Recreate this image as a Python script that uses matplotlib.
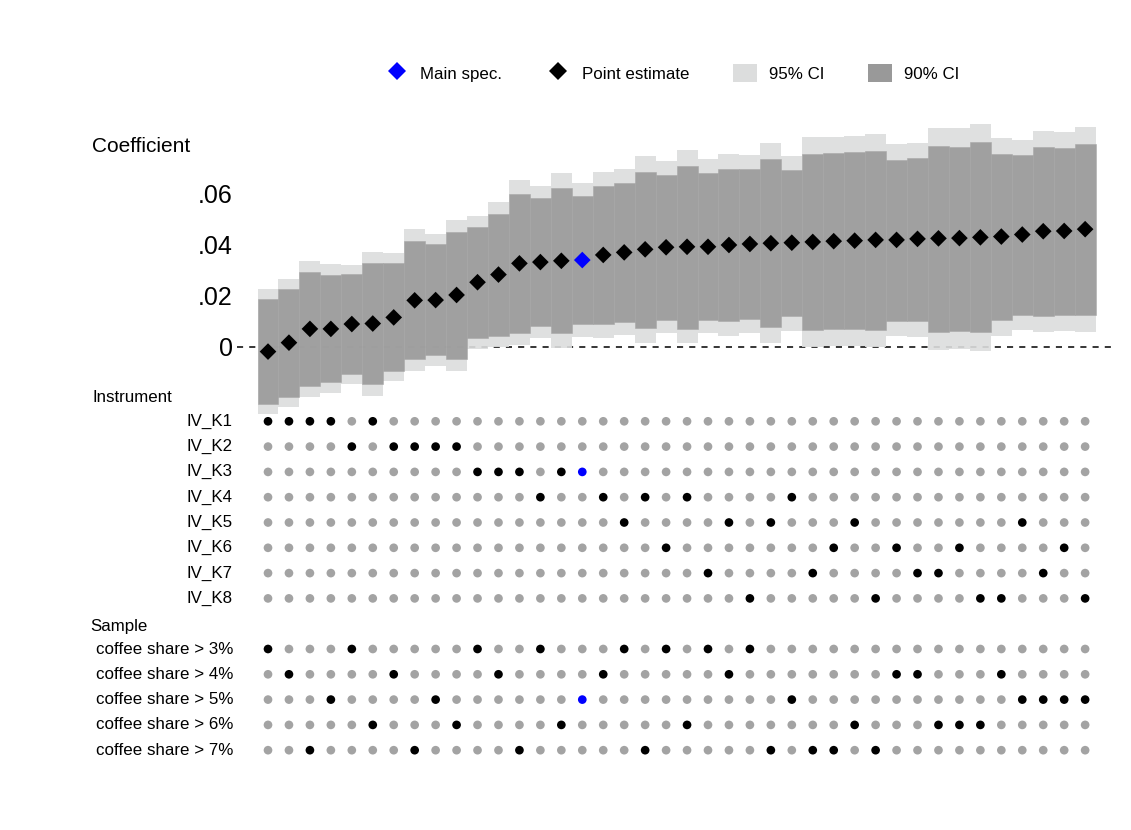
import numpy as np
import matplotlib
matplotlib.use("Agg")
import matplotlib.pyplot as plt
from matplotlib.lines import Line2D
from matplotlib.patches import Patch
from matplotlib.transforms import blended_transform_factory

plt.rcParams['font.family'] = ['Liberation Sans', 'DejaVu Sans']

# point estimates and confidence bounds, one entry per specification (sorted)
estimate = [-0.0018, 0.0017, 0.0071, 0.0071, 0.0090, 0.0092, 0.0116, 0.0183, 0.0184, 0.0204,
            0.0254, 0.0284, 0.0328, 0.0333, 0.0338, 0.0341, 0.0361, 0.0371, 0.0383, 0.0391,
            0.0393, 0.0393, 0.0400, 0.0404, 0.0407, 0.0409, 0.0412, 0.0415, 0.0417, 0.0420,
            0.0420, 0.0424, 0.0426, 0.0427, 0.0430, 0.0433, 0.0441, 0.0454, 0.0455, 0.0462]
ci95_hi = [0.0226, 0.0268, 0.0337, 0.0325, 0.0322, 0.0371, 0.0367, 0.0463, 0.0443, 0.0498,
           0.0515, 0.0567, 0.0654, 0.0631, 0.0681, 0.0642, 0.0685, 0.0697, 0.0749, 0.0731,
           0.0774, 0.0737, 0.0757, 0.0753, 0.0799, 0.0749, 0.0822, 0.0825, 0.0829, 0.0834,
           0.0795, 0.0801, 0.0859, 0.0858, 0.0873, 0.0818, 0.0812, 0.0847, 0.0843, 0.0862]
ci90_hi = [0.0187, 0.0226, 0.0293, 0.0282, 0.0285, 0.0328, 0.0328, 0.0417, 0.0403, 0.0452,
           0.0472, 0.0522, 0.0600, 0.0583, 0.0625, 0.0592, 0.0631, 0.0644, 0.0688, 0.0675,
           0.0711, 0.0684, 0.0697, 0.0697, 0.0736, 0.0694, 0.0757, 0.0760, 0.0764, 0.0767,
           0.0733, 0.0741, 0.0790, 0.0786, 0.0803, 0.0757, 0.0753, 0.0783, 0.0780, 0.0796]
ci90_lo = [-0.0225, -0.0197, -0.0153, -0.0139, -0.0107, -0.0145, -0.0093, -0.0048, -0.0031, -0.0047,
           0.0034, 0.0044, 0.0054, 0.0084, 0.0054, 0.0090, 0.0089, 0.0099, 0.0076, 0.0106,
           0.0072, 0.0106, 0.0102, 0.0110, 0.0077, 0.0122, 0.0067, 0.0069, 0.0071, 0.0067,
           0.0103, 0.0102, 0.0060, 0.0064, 0.0059, 0.0106, 0.0125, 0.0123, 0.0125, 0.0125]
ci95_lo = [-0.0263, -0.0237, -0.0195, -0.0179, -0.0146, -0.0191, -0.0133, -0.0094, -0.0073, -0.0094,
           -0.0007, 0.0001, 0.0007, 0.0034, -0.0003, 0.0040, 0.0037, 0.0047, 0.0017, 0.0054,
           0.0014, 0.0054, 0.0044, 0.0054, 0.0014, 0.0064, 0.0001, 0.0004, 0.0004, -0.0001,
           0.0043, 0.0040, -0.0012, -0.0007, -0.0014, 0.0043, 0.0067, 0.0060, 0.0063, 0.0060]

# which instrument (1..8) and sample cutoff (%) each specification uses
instrument = [1, 1, 1, 1, 2, 1, 2, 2, 2, 2, 3, 3, 3, 4, 3, 3, 4, 5, 4, 6,
              4, 7, 5, 8, 5, 4, 7, 6, 5, 8, 6, 7, 7, 6, 8, 8, 5, 7, 6, 8]
sample = [3, 4, 7, 5, 3, 6, 4, 7, 5, 6, 3, 4, 7, 3, 6, 5, 4, 3, 7, 3,
          6, 3, 4, 3, 7, 5, 7, 7, 6, 7, 4, 4, 6, 6, 6, 4, 5, 5, 5, 5]
main_spec = 15

instrument_labels = ['IV_K1', 'IV_K2', 'IV_K3', 'IV_K4', 'IV_K5', 'IV_K6', 'IV_K7', 'IV_K8']
sample_levels = [3, 4, 5, 6, 7]
sample_labels = ['coffee share > 3%', 'coffee share > 4%', 'coffee share > 5%',
                 'coffee share > 6%', 'coffee share > 7%']
yticks = [0, 0.02, 0.04, 0.06]

LIGHT = '#dcdddd'
DARK = '#999999'
DOT_GREY = '#a3a3a3'
BLUE = '#0000ff'
LABEL_FS = 12.2

W, H = 1131, 830
fig = plt.figure(figsize=(W / 100, H / 100), dpi=100)

def px_box(x0, x1, ytop, ybot):
    return [x0 / W, 1 - ybot / H, (x1 - x0) / W, (ybot - ytop) / H]

n = len(estimate)
x = np.arange(n)
xlim = (-1.48, 40.33)

# ---- coefficient panel
ax = fig.add_axes(px_box(237, 1113, 120, 415))
ax.axhline(0, color='black', lw=1.1, ls=(0, (4, 4)), zorder=1)
lo95, hi95 = np.array(ci95_lo), np.array(ci95_hi)
lo90, hi90 = np.array(ci90_lo), np.array(ci90_hi)
ax.bar(x, hi95 - lo95, bottom=lo95, width=1.0, color=LIGHT, alpha=0.9, zorder=2, lw=0)
ax.bar(x, hi90 - lo90, bottom=lo90, width=1.0, color=DARK, alpha=0.9, zorder=3,
       edgecolor='#a6a6a6', lw=0.4)
est = np.array(estimate)
colors = ['black'] * n
colors[main_spec] = BLUE
ax.scatter(x, est, marker='D', s=72, c=colors, zorder=4, lw=0)
ax.set_xlim(*xlim)
ax.set_ylim(-0.02667, 0.08902)
ax.set_yticks(yticks)
ax.set_yticklabels(['0' if v == 0 else f'{v:.2f}'.lstrip('0') for v in yticks], fontsize=18)
ax.tick_params(axis='y', length=0, pad=3)
ax.set_xticks([])
for s in ax.spines.values():
    s.set_visible(False)
ax.patch.set_alpha(0)
fig.text(92 / W, 1 - 146 / H, 'Coefficient', fontsize=15, ha='left', va='center')

# ---- indicator panel
ax2 = fig.add_axes(px_box(237, 1113, 385, 765))
ax2.set_xlim(*xlim)
row0, step = 396, 25.3
ax2.set_ylim((765 - row0) / step, (385 - row0) / step)
ax2.axis('off')

inst_rows = np.arange(1, 9)
samp_rows = np.arange(10, 15)
for k, r in zip(range(1, 9), inst_rows):
    c = [DOT_GREY] * n
    for i in range(n):
        if instrument[i] == k:
            c[i] = BLUE if i == main_spec else 'black'
    ax2.scatter(x, np.full(n, r), s=39, c=c, lw=0)
for lev, r in zip(sample_levels, samp_rows):
    c = [DOT_GREY] * n
    for i in range(n):
        if sample[i] == lev:
            c[i] = BLUE if i == main_spec else 'black'
    ax2.scatter(x, np.full(n, r), s=39, c=c, lw=0)

tr = blended_transform_factory(fig.transFigure, ax2.transData)
ax2.text(92 / W, 0.05, 'Instrument', transform=tr, fontsize=LABEL_FS, ha='left', va='center')
ax2.text(90 / W, 9.1, 'Sample', transform=tr, fontsize=LABEL_FS, ha='left', va='center')
for lab, r in zip(instrument_labels, inst_rows):
    ax2.text(233 / W, r, lab, transform=tr, fontsize=LABEL_FS, ha='right', va='center')
for lab, r in zip(sample_labels, samp_rows):
    ax2.text(233 / W, r, lab, transform=tr, fontsize=LABEL_FS, ha='right', va='center')

# ---- legend
handles = [
    Line2D([], [], marker='D', color=BLUE, ls='none', markersize=9.5, mew=0),
    Line2D([], [], marker='D', color='black', ls='none', markersize=9.5, mew=0),
    Patch(facecolor=LIGHT, edgecolor='none'),
    Patch(facecolor=DARK, edgecolor='none'),
]
fig.legend(handles, ['Main spec.', 'Point estimate', '95% CI', '90% CI'],
           loc='center', bbox_to_anchor=(672 / W, 1 - 73 / H), ncol=4, frameon=False,
           fontsize=LABEL_FS, handlelength=1.4, handleheight=1.2, handletextpad=0.7,
           columnspacing=2.6)

fig.savefig('out.png', dpi=100)
